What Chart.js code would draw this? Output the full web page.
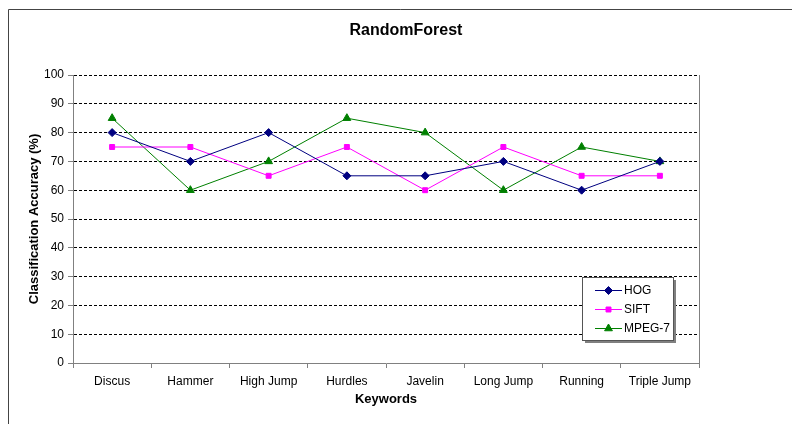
<!DOCTYPE html>
<html>
<head>
<meta charset="utf-8">
<script src="https://cdn.jsdelivr.net/npm/chart.js@4/dist/chart.umd.min.js"></script>
<style>
html,body{margin:0;padding:0;background:#fff;}
#wrap{width:792px;height:424px;position:relative;}
</style>
</head>
<body>
<div id="wrap"><canvas id="c" width="792" height="424"></canvas></div>
<script>
const chartTitle = "RandomForest";
const xAxisTitle = "Keywords";
const yAxisTitle = "Classification Accuracy (%)";
const categories = ["Discus", "Hammer", "High Jump", "Hurdles", "Javelin", "Long Jump", "Running", "Triple Jump"];
const hogValues = [80, 70, 80, 65, 65, 70, 60, 70];
const siftValues = [75, 75, 65, 75, 60, 75, 65, 65];
const mpegValues = [85, 60, 70, 85, 80, 60, 75, 70];
const seriesNames = ["HOG", "SIFT", "MPEG-7"];
const yTicks = [0, 10, 20, 30, 40, 50, 60, 70, 80, 90, 100];

const FONT = "Arial, 'Liberation Sans', sans-serif";

const decorPlugin = {
  id: 'decor',
  beforeDraw(chart) {
    const ctx = chart.ctx;
    ctx.save();
    ctx.fillStyle = '#fff';
    ctx.fillRect(0, 0, chart.width, chart.height);
    ctx.strokeStyle = '#444';
    ctx.lineWidth = 1;
    ctx.beginPath();
    ctx.moveTo(8.5, 424);
    ctx.lineTo(8.5, 9.5);
    ctx.lineTo(792, 9.5);
    ctx.stroke();
    ctx.restore();
  },
  afterDatasetsDraw(chart) {
    const ctx = chart.ctx;
    const a = chart.chartArea;
    ctx.save();
    // plot border right
    ctx.strokeStyle = '#808080';
    ctx.lineWidth = 1;
    ctx.beginPath();
    ctx.moveTo(Math.round(a.right) + 0.5, a.top);
    ctx.lineTo(Math.round(a.right) + 0.5, a.bottom);
    ctx.stroke();
    // title
    ctx.fillStyle = '#000';
    ctx.font = "bold 16px " + FONT;
    ctx.textAlign = 'center';
    ctx.textBaseline = 'middle';
    ctx.fillText(chartTitle, 406, 31);
    // legend
    const bx = 582, by = 277, bw = 91, bh = 63;
    ctx.fillStyle = '#808080';
    ctx.fillRect(bx + 3, by + 3, bw, bh);
    ctx.fillStyle = '#fff';
    ctx.fillRect(bx, by, bw, bh);
    ctx.strokeStyle = '#555';
    ctx.strokeRect(bx + 0.5, by + 0.5, bw, bh);
    const ys = [290, 309, 328];
    chart.data.datasets.forEach((ds, i) => {
      const y = ys[i] + 0.5;
      ctx.strokeStyle = ds.borderColor;
      ctx.lineWidth = 1;
      ctx.beginPath();
      ctx.moveTo(595, y);
      ctx.lineTo(622, y);
      ctx.stroke();
      ctx.fillStyle = ds.pointBackgroundColor;
      ctx.strokeStyle = ds.pointBorderColor;
      Chart.helpers.drawPoint(ctx, {
        pointStyle: ds.pointStyle, radius: ds.pointRadius, rotation: 0, borderWidth: 1
      }, 608.5, y);
      ctx.fillStyle = '#000';
      ctx.font = "12px " + FONT;
      ctx.textAlign = 'left';
      ctx.textBaseline = 'middle';
      ctx.fillText(ds.label, 624, ys[i] + 1);
    });
    ctx.restore();
  }
};

function mk(label, data, color, style, r) {
  return {
    label, data,
    borderColor: color, backgroundColor: color,
    pointBackgroundColor: color, pointBorderColor: color,
    pointStyle: style, pointRadius: r, pointHoverRadius: r,
    borderWidth: 1, tension: 0, fill: false
  };
}

new Chart(document.getElementById('c'), {
  type: 'line',
  data: {
    labels: categories,
    datasets: [
      mk(seriesNames[0], hogValues, '#000080', 'rectRot', 4),
      mk(seriesNames[1], siftValues, '#FF00FF', 'rect', 3.5),
      mk(seriesNames[2], mpegValues, '#008000', 'triangle', 4.5)
    ]
  },
  options: {
    responsive: false,
    animation: false,
    devicePixelRatio: 1,
    layout: { padding: { left: 0, right: 93, top: 75, bottom: 0 } },
    plugins: { legend: { display: false }, title: { display: false }, tooltip: { enabled: false } },
    scales: {
      x: {
        offset: true,
        afterFit(s) { s.height = 61; },
        grid: {
          offset: true, drawOnChartArea: false, drawTicks: true, tickLength: 5,
          color: '#808080', tickColor: '#808080'
        },
        border: { display: true, color: '#808080', width: 1 },
        ticks: { color: '#000', font: { family: FONT, size: 12 }, padding: 6, maxRotation: 0, autoSkip: false },
        title: { display: true, text: xAxisTitle, color: '#000', font: { family: FONT, size: 13, weight: 'bold' }, padding: { top: 0, bottom: 17 } }
      },
      y: {
        min: 0, max: 100,
        afterFit(s) { s.width = 73; },
        afterBuildTicks(s) { s.ticks = yTicks.map(v => ({ value: v })); },
        grid: {
          color: (c) => (c.tick && c.tick.value === 0) ? 'rgba(0,0,0,0)' : '#000',
          tickLength: 5, tickColor: '#808080', tickBorderDash: [], lineWidth: 1
        },
        border: { display: true, color: '#808080', width: 1, dash: [3, 2] },
        ticks: { color: '#000', font: { family: FONT, size: 12 }, padding: 4 },
        title: { display: true, text: yAxisTitle, color: '#000', font: { family: FONT, size: 13, weight: 'bold' }, padding: { top: 27, bottom: 0 } }
      }
    }
  },
  plugins: [decorPlugin]
});
</script>
</body>
</html>
